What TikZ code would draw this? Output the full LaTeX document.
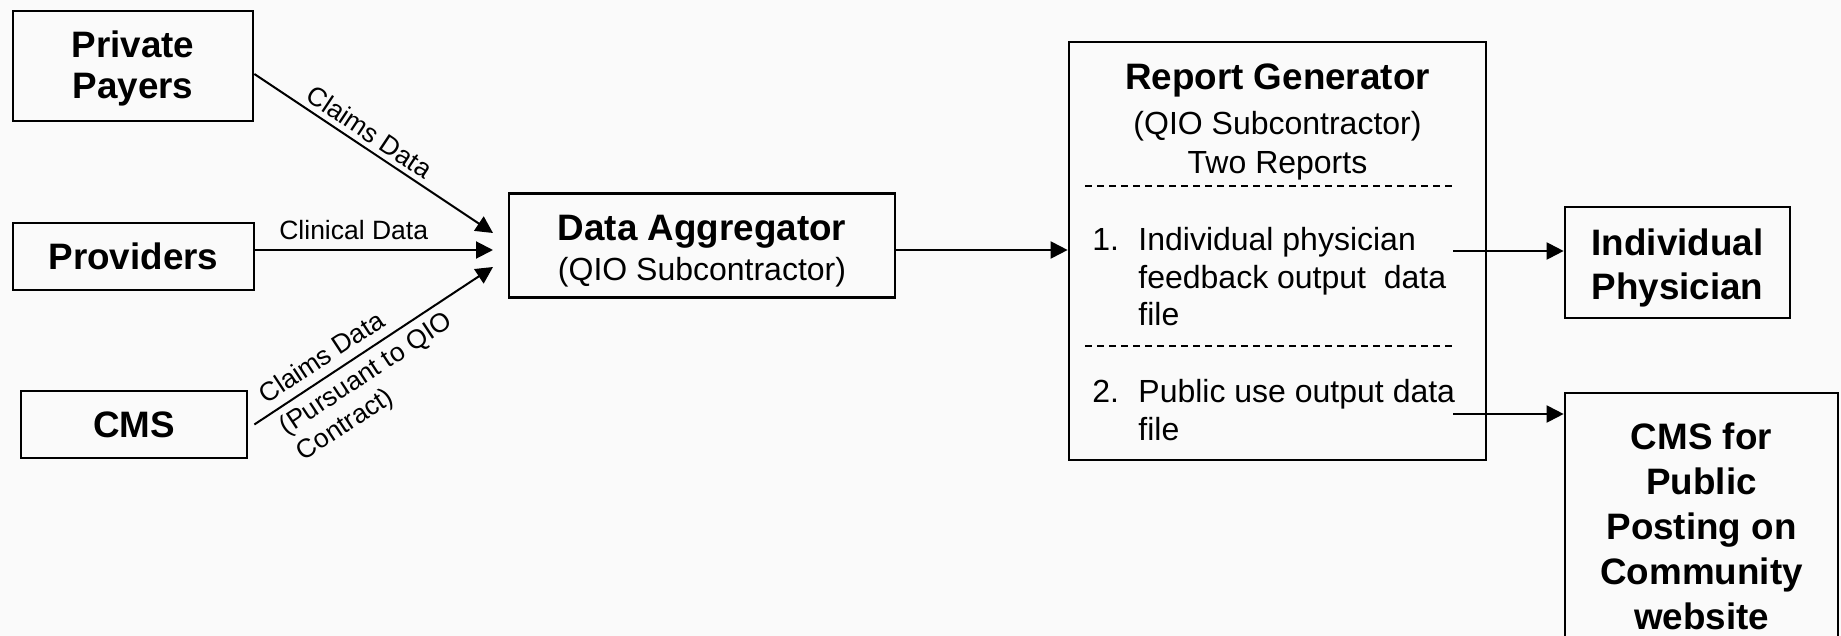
\documentclass[tikz,border=0pt]{standalone}
\usepackage{fontspec}
\setmainfont{Liberation Sans}
\usetikzlibrary{arrows.meta}
\definecolor{bgc}{RGB}{250,250,250}
\newcommand\topstrut[1]{\rule{0pt}{#1}}
\begin{document}
\begin{tikzpicture}[x=0.5pt,y=-0.5pt,
  pbox/.style={draw=black, line width=1.35pt, rectangle, inner sep=0pt, align=center,
    font=\fontsize{18.4}{22}\selectfont\bfseries},
  arr/.style={draw=black, line width=1pt, -{Triangle[length=8.5pt,width=8.5pt]}},
  lbl/.style={font=\fontsize{13.25}{15.5}\selectfont, inner sep=0pt},
  reg/.style={font=\fontsize{16}{18.75}\selectfont, inner sep=0pt},
  ttl/.style={font=\fontsize{18.4}{22}\selectfont\bfseries, inner sep=0pt},
  dashline/.style={draw=black, line width=0.65pt, dash pattern=on 3.5pt off 2.5pt}]
\fill[bgc] (0,0) rectangle (1841,636);
\useasboundingbox (0,0) rectangle (1841,636);

% boxes
\node[pbox, minimum width=120pt, minimum height=55pt, font=\fontsize{18.4}{20.5}\selectfont\bfseries] (pp) at (133,66) {\topstrut{16pt}Private\\Payers};
\node[pbox, minimum width=120.5pt, minimum height=33.5pt] (pr) at (133.5,256.5) {Providers};
\node[pbox, minimum width=113pt, minimum height=33.5pt] (cms) at (134,424.5) {CMS};
\node[pbox, minimum width=193pt, minimum height=52pt, font=\fontsize{18.4}{20}\selectfont\bfseries] (agg) at (702,245.5)
  {\topstrut{17.9pt}Data Aggregator\\{\fontsize{16}{20}\selectfont\mdseries (QIO Subcontractor)}};
\node[pbox, minimum width=208.5pt, minimum height=209pt] (rep) at (1277.5,251) {};
\node[pbox, minimum width=112.5pt, minimum height=55.5pt] (ind) at (1677.5,262.5) {\topstrut{18.4pt}Individual\\Physician};
\node[pbox, minimum width=136.5pt, minimum height=133.5pt, font=\fontsize{18.4}{22.5}\selectfont\bfseries] (pub) at (1701.5,526.5)
  {CMS for\\Public\\Posting on\\Community\\website};

% report generator contents
\node[ttl, anchor=base] (rt1) at (1277.5,90) {Report Generator};
\node[reg, anchor=base] (rt2) at (1277.5,135) {(QIO Subcontractor)};
\node[reg, anchor=base] (rt3) at (1277.5,174) {Two Reports};
\draw[dashline] (1085,186) -- (1455,186);
\draw[dashline] (1085,346) -- (1455,346);
\node[reg, anchor=base west] (n1) at (1092,250) {1.};
\node[reg, anchor=north west, align=left] (i1) at (1138,227) {Individual physician\\feedback output\ \ data\\file};
\node[reg, anchor=base west] (n2) at (1092,402) {2.};
\node[reg, anchor=north west, align=left] (i2) at (1138,379) {Public use output data\\file};

% connector ends
\coordinate (in1) at (493,233);
\coordinate (in2) at (493,250);
\coordinate (in3) at (493,267);
\coordinate (o1) at (1453,251);
\coordinate (o2) at (1453,414);

% connectors
\draw[arr] ([yshift=-4pt]pp.east) -- (in1)
  node[lbl, sloped, above, pos=0.446, inner ysep=2.5pt] {Claims Data};
\draw[arr] (pr.east |- in2) -- (in2)
  node[lbl, above, pos=0.414, inner ysep=4.75pt] {Clinical Data};
\draw[arr] ([xshift=3pt]cms.east) -- (in3)
  node[lbl, sloped, anchor=south west, pos=0.07, inner ysep=4.5pt] {Claims Data}
  node[lbl, sloped, anchor=north west, pos=0.07, inner ysep=3.5pt, align=left] {(Pursuant to QIO\\Contract)};
\draw[arr] ([yshift=-2.25pt]agg.east) -- ([yshift=-2.25pt]agg.east -| rep.west);
\draw[arr] (o1) -- (o1 -| ind.west);
\draw[arr] (o2) -- (o2 -| pub.west);
\end{tikzpicture}
\end{document}
